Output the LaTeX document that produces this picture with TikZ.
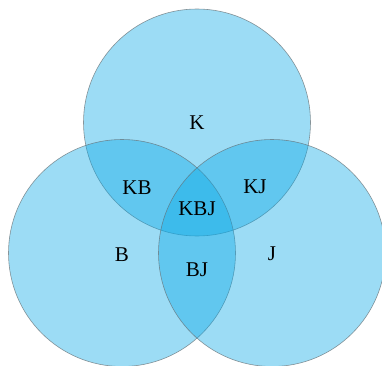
\documentclass[tikz,border=0pt]{standalone}
\usepackage{fontspec}
\setmainfont{Liberation Serif}
\definecolor{vennblue}{RGB}{8,168,230}
\definecolor{vennline}{RGB}{100,108,112}
\begin{document}
\begin{tikzpicture}[x=1pt,y=1pt,
  set/.style={circle, minimum size=227pt, inner sep=0pt, fill=vennblue,
    fill opacity=0.4, draw=vennline, draw opacity=0.7, line width=0.6pt},
  lbl/.style={font=\fontsize{21}{24}\selectfont, text=black, inner sep=0pt}]
\useasboundingbox (0,0) rectangle (382,365);
\node[set] (K) at (197,242.5) {};
\node[set] (B) at (122,112) {};
\node[set] (J) at (272,112) {};
\node[lbl] (lK) at (197,242) {K};
\node[lbl] (lKB) at (137,177) {KB};
\node[lbl] (lKJ) at (255,178) {KJ};
\node[lbl] (lKBJ) at (197,156) {KBJ};
\node[lbl] (lB) at (122,110) {B};
\node[lbl] (lJ) at (272,111) {J};
\node[lbl] (lBJ) at (197,95) {BJ};
\end{tikzpicture}
\end{document}
